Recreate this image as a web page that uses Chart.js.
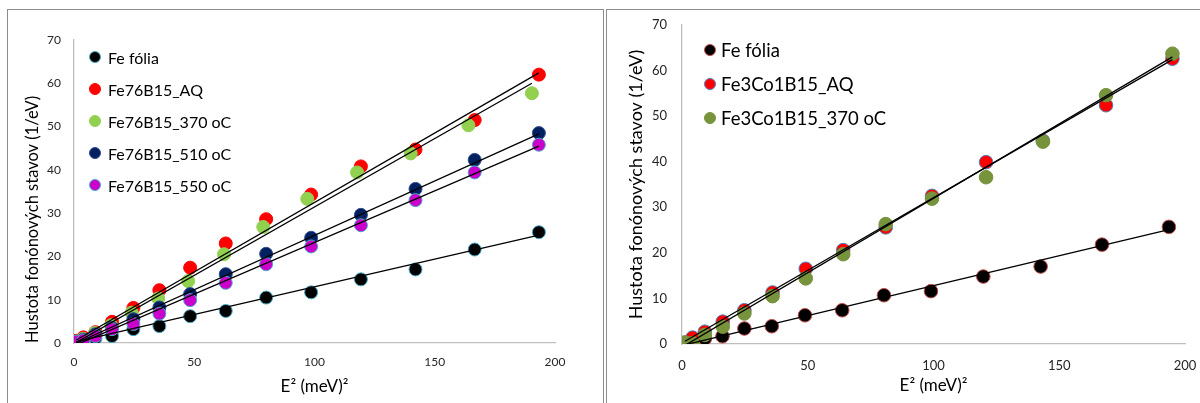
<!DOCTYPE html>
<html><head><meta charset="utf-8">
<script src="https://cdn.jsdelivr.net/npm/chart.js@4"></script>
<style>
body{margin:0;background:#fff;width:1200px;height:403px;overflow:hidden;position:relative;font-family:Lato, sans-serif;}
.frame{position:absolute;border:1px solid #8c8c8c;box-sizing:border-box;}
.wrap{position:absolute;top:0;height:403px;width:600px;}
.li{position:absolute;display:flex;align-items:center;white-space:nowrap;color:#000;}
.dot{display:inline-block;border-radius:50%;box-sizing:border-box;flex:none;}
</style></head><body>
<div class="frame" style="left:7px;top:9px;width:597px;height:430px"></div>
<div class="frame" style="left:606px;top:9px;width:640px;height:430px"></div>
<div class="wrap" style="left:0"><canvas id="c1" width="600" height="403"></canvas></div>
<div class="wrap" style="left:600px"><canvas id="c2" width="600" height="403"></canvas></div>
<div id="leg1"></div><div id="leg2"></div>
<script>
// ---------- Left chart data ----------
const leftNames = ['Fe fólia','Fe76B15_AQ','Fe76B15_370 oC','Fe76B15_510 oC','Fe76B15_550 oC'];
const leftX     = [0.99,3.9,8.9,15.8,24.7,35.5,48.3,63.1,79.9,98.6,119.3,142,166.6,193.3];
const leftX370  = [0.9,3.8,8.7,15.4,24.0,35.0,47.5,62.4,78.7,97.0,117.7,140.0,164.0,190.4];
const leftY_Fe  = [0.2,0.5,1.1,1.6,3.2,3.9,6.2,7.4,10.5,11.7,14.7,17.0,21.6,25.6];
const leftY_AQ  = [0.5,1.3,2.5,4.9,8.1,12.2,17.4,23.0,28.6,34.3,40.8,44.7,51.5,62.0];
const leftY_370 = [0.3,1.0,2.3,4.1,7.0,10.3,14.3,20.5,26.8,33.3,39.4,43.8,50.3,57.7];
const leftY_510 = [0.3,0.8,2.0,3.5,5.5,8.2,11.3,15.9,20.6,24.3,29.6,35.6,42.3,48.5];
const leftY_550 = [0.3,0.6,1.6,3.2,4.4,6.8,9.9,13.9,18.2,22.3,27.2,33.0,39.4,45.8];
// trend lines (endpoints)
const leftTrendX    = [1,193.3];
const leftTrendX370 = [0.9,190.4];
const leftTrendY_Fe  = [0.3,24.9];
const leftTrendY_AQ  = [0.7,62.4];
const leftTrendY_370 = [0.1,60.0];
const leftTrendY_510 = [0.0,48.3];
const leftTrendY_550 = [-0.4,45.5];

// ---------- Right chart data ----------
const rightNames = ['Fe fólia','Fe3Co1B15_AQ','Fe3Co1B15_370 oC'];
const rightX_Fe  = [1,4,9.1,16.1,24.8,35.7,48.9,63.7,80.3,99,119.8,142.6,167,193.6];
const rightX_Co  = [1.2,4.2,9.1,16.2,24.8,36,49.2,64.1,81,99.4,120.9,143.5,168.6,195];
const rightY_Fe  = [0.2,0.5,1.2,1.7,3.4,3.9,6.3,7.4,10.7,11.6,14.8,17.0,21.8,25.7];
const rightY_AQ  = [0.3,1.4,2.7,4.9,7.4,11.3,16.5,20.6,25.6,32.5,39.9,44.6,52.4,62.6];
const rightY_370 = [0.3,0.2,2.0,3.8,6.7,10.5,14.4,19.7,26.3,31.9,36.6,44.4,54.6,63.7];
const rightTrendX_Fe = [1,193.6];
const rightTrendX_Co = [1.2,195];
const rightTrendY_Fe  = [-0.2,25.1];
const rightTrendY_AQ  = [0.6,62.4];
const rightTrendY_370 = [-0.3,63.0];

const xTicks = [0,50,100,150,200];
const yTicks = [0,10,20,30,40,50,60,70];
const xTitle = 'E² (meV)²';
const yTitle = 'Hustota fonónových stavov (1/eV)';

const FONT = 'Lato';
const pts = (xs, ys) => xs.map((x, i) => ({x, y: ys[i]}));

function scatterDs(label, xs, ys, fill, border, order, r) {
  return {type:'scatter', label, data: pts(xs, ys), backgroundColor: fill, borderColor: border,
    borderWidth: 1, pointRadius: r, pointHoverRadius: r, order};
}
function trendDs(xs, ys) {
  return {type:'line', label:'_trend', data: pts(xs, ys), borderColor:'#000', borderWidth:1.3,
    pointRadius:0, fill:false, order:0, showLine:true, tension:0};
}

function makeChart(id, datasets, g) {
  return new Chart(document.getElementById(id), {
    type: 'scatter',
    data: {datasets},
    options: {
      responsive:false, animation:false, events:[],
      layout:{padding:{left:0, top:g.top, right:g.right, bottom:0}, autoPadding:false},
      plugins:{legend:{display:false}, tooltip:{enabled:false}},
      scales:{
        x:{type:'linear', min:0, max:200,
          afterBuildTicks(s){ s.ticks = xTicks.map(v => ({value:v})); },
          ticks:{color:'#262626', font:{family:FONT, size:g.tick}, padding:g.xpad},
          grid:{display:false, drawTicks:false},
          border:{color:'#BFBFBF', width:1.3},
          title:{display:true, text:xTitle, color:'#000', font:{family:FONT, size:g.xt}, padding:{top:0, bottom:g.xtb}},
          afterFit(s){ s.height = g.xh; s.paddingRight = 0; s.paddingLeft = 0; }
        },
        y:{type:'linear', min:0, max:70,
          afterBuildTicks(s){ s.ticks = yTicks.map(v => ({value:v})); },
          ticks:{color:'#262626', font:{family:FONT, size:g.tick}, padding:g.ypad},
          grid:{display:false, drawTicks:false},
          border:{color:'#BFBFBF', width:1.3},
          title:{display:true, text:yTitle, color:'#000', align:g.yalign, font:{family:FONT, size:g.yt}, padding:{top:g.ytp, bottom:0}},
          afterFit(s){ s.width = g.yw; s.paddingTop = 0; s.paddingBottom = 0; }
        }
      }
    }
  });
}

const c1 = makeChart('c1', [
  trendDs(leftTrendX, leftTrendY_Fe),
  trendDs(leftTrendX, leftTrendY_AQ),
  trendDs(leftTrendX370, leftTrendY_370),
  trendDs(leftTrendX, leftTrendY_510),
  trendDs(leftTrendX, leftTrendY_550),
  scatterDs(leftNames[0], leftX, leftY_Fe, '#000000', '#4BACC6', 5, 6.5),
  scatterDs(leftNames[1], leftX, leftY_AQ, '#FF0000', '#FF0000', 4, 6.5),
  scatterDs(leftNames[2], leftX370, leftY_370, '#92D050', '#92D050', 3, 6.5),
  scatterDs(leftNames[3], leftX, leftY_510, '#002060', '#2E4A8C', 2, 6.5),
  scatterDs(leftNames[4], leftX, leftY_550, '#CC00CC', '#4BACC6', 1, 6.5),
], {top:40, right:45, tick:12, xpad:12, xt:17, xtb:6, xh:60, yw:74, ypad:13, yt:16.5, ytp:23, yalign:'start'});

const c2 = makeChart('c2', [
  trendDs(rightTrendX_Fe, rightTrendY_Fe),
  trendDs(rightTrendX_Co, rightTrendY_AQ),
  trendDs(rightTrendX_Co, rightTrendY_370),
  scatterDs(rightNames[0], rightX_Fe, rightY_Fe, '#000000', '#C0504D', 3, 6.8),
  scatterDs(rightNames[1], rightX_Co, rightY_AQ, '#FF0000', '#4F81BD', 2, 6.8),
  scatterDs(rightNames[2], rightX_Co, rightY_370, '#77933C', '#77933C', 1, 6.8),
], {top:25, right:15, tick:13, xpad:14, xt:17, xtb:7, xh:59, yw:82, ypad:15, yt:18, ytp:25, yalign:'center'});

function htmlLegend(chart, elId, offX, g) {
  const el = document.getElementById(elId);
  const items = chart.data.datasets.filter(d => d.label !== '_trend');
  items.forEach((d, i) => {
    const row = document.createElement('div');
    row.className = 'li';
    row.style.left = (offX + g.x) + 'px';
    row.style.top = (g.y + i * g.dy - g.h / 2) + 'px';
    row.style.height = g.h + 'px';
    row.style.fontFamily = FONT;
    row.style.fontSize = g.fs + 'px';
    const dot = document.createElement('span');
    dot.className = 'dot';
    dot.style.width = dot.style.height = g.d + 'px';
    dot.style.background = d.backgroundColor;
    dot.style.border = '1px solid ' + d.borderColor;
    dot.style.marginRight = g.gap + 'px';
    const t = document.createElement('span');
    t.textContent = d.label;
    row.appendChild(dot); row.appendChild(t);
    el.appendChild(row);
  });
}
htmlLegend(c1, 'leg1', 0, {x:89, y:57, dy:32, h:24, fs:16, d:12, gap:7});
htmlLegend(c2, 'leg2', 600, {x:104, y:50, dy:34, h:26, fs:18.5, d:12, gap:5});
</script>
</body></html>
